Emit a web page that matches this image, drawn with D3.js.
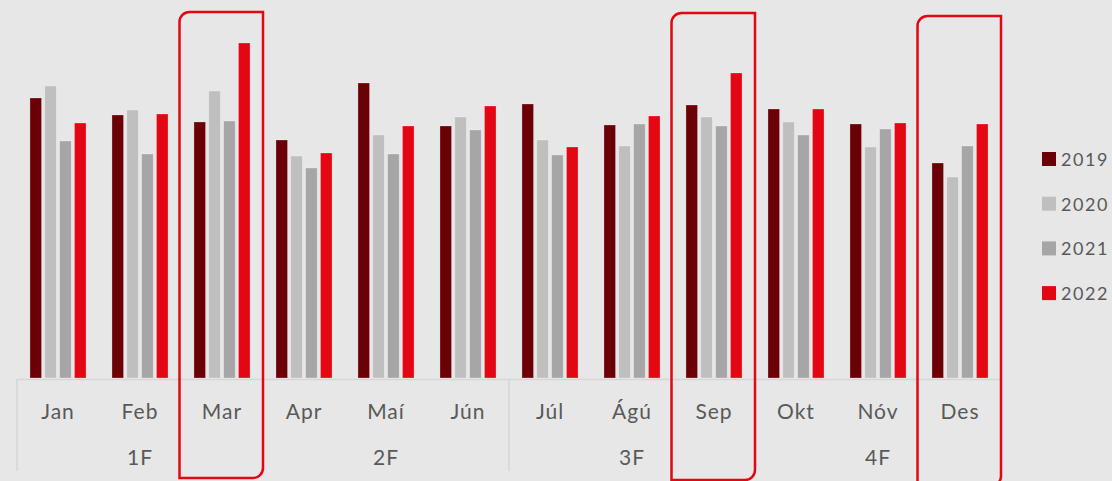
<!DOCTYPE html>
<html>
<head>
<meta charset="utf-8">
<script src="https://cdn.jsdelivr.net/npm/d3@7"></script>
<style>
  body { margin: 0; background: #e7e7e7; }
  svg { display: block; font-family: Lato, "Open Sans", sans-serif; }
</style>
</head>
<body>
<div id="chart"></div>
<script>
// monthly values per year (arbitrary units)
const months = ["Jan", "Feb", "Mar", "Apr", "Maí", "Jún", "Júl", "Ágú", "Sep", "Okt", "Nóv", "Des"]
const quarters = ["1F", "2F", "3F", "4F"]
const years = ["2019", "2020", "2021", "2022"]
const values2019 = [280, 263, 256, 238, 295, 252, 274, 253, 273, 269, 254, 215]
const values2020 = [292, 268, 287, 222, 243, 261, 238, 232, 261, 256, 231, 201]
const values2021 = [237, 224, 257, 210, 224, 248, 223, 254, 252, 243, 249, 232]
const values2022 = [255, 264, 335, 225, 252, 272, 231, 262, 305, 269, 255, 254]
const highlighted = ["Mar", "Sep", "Des"]

function renderChart(frame_id) {
    let width = 1112
    let height = 481
    let left = 17, right = 1001, base = 379

    let series = [values2019, values2020, values2021, values2022]
    let colors = ["#6b0007", "#bfbfbf", "#a6a6a6", "#e30613"]

    var svg = d3.select("#" + frame_id)
        .append("svg")
        .attr("width", width)
        .attr("height", height)

    svg.append("rect").attr("width", width).attr("height", height).attr("fill", "#e7e7e7")

    var x = d3.scaleBand()
        .domain(months)
        .range([left, right])
        .paddingInner(0.316)
        .paddingOuter(0.158)

    var x1 = d3.scaleBand()
        .domain(years)
        .range([0, x.bandwidth()])
        .paddingInner(0.22)

    var y = d3.scaleLinear()
        .domain([0, 360])
        .range([base - 1, base - 361])

    var color = d3.scaleOrdinal().domain(years).range(colors)

    var rows = months.map(function (m, i) {
        return { month: m, vals: years.map(function (yr, j) { return { year: yr, value: series[j][i] } }) }
    })

    var groups = svg.selectAll("g.month")
        .data(rows)
        .enter()
        .append("g")
        .attr("class", "month")
        .attr("transform", function (d) { return "translate(" + x(d.month) + ",0)" })

    groups.selectAll("rect")
        .data(function (d) { return d.vals })
        .enter()
        .append("rect")
        .attr("x", function (d) { return x1(d.year) })
        .attr("y", function (d) { return y(d.value) })
        .attr("width", x1.bandwidth())
        .attr("height", function (d) { return y(0) - y(d.value) })
        .attr("fill", function (d) { return color(d.year) })
        .attr("stroke", "#ffffff")
        .attr("stroke-opacity", 0.35)
        .attr("stroke-width", 0.75)

    // category axis (two levels)
    var step = x.step()
    var axisColor = "#d6d6d6"
    svg.append("line")
        .attr("x1", left).attr("x2", right)
        .attr("y1", base + 0.5).attr("y2", base + 0.5)
        .attr("stroke", axisColor).attr("stroke-width", 1.5)

    d3.range(quarters.length + 1).forEach(function (q) {
        var xx = left + q * 3 * step
        svg.append("line")
            .attr("x1", xx).attr("x2", xx)
            .attr("y1", base).attr("y2", 471)
            .attr("stroke", axisColor).attr("stroke-width", 1.5)
    })

    svg.selectAll("text.mlabel")
        .data(months)
        .enter()
        .append("text")
        .attr("class", "mlabel")
        .attr("x", function (d) { return x(d) + x.bandwidth() / 2 })
        .attr("y", 419)
        .attr("text-anchor", "middle")
        .attr("fill", "#595959")
        .style("font-size", "21px")
        .style("letter-spacing", "1px")
        .text(function (d) { return d })

    svg.selectAll("text.qlabel")
        .data(quarters)
        .enter()
        .append("text")
        .attr("class", "qlabel")
        .attr("x", function (d, i) { return left + (i * 3 + 1.5) * step })
        .attr("y", 465)
        .attr("text-anchor", "middle")
        .attr("fill", "#595959")
        .style("font-size", "21px")
        .style("letter-spacing", "1px")
        .text(function (d) { return d })

    // red highlight frames: rounded top-left and bottom-right corners
    var boxTops = { "Mar": 12, "Sep": 13, "Des": 16 }
    var boxBottoms = { "Mar": 478, "Sep": 480, "Des": 486 }
    var r = 10
    highlighted.forEach(function (m) {
        var x0 = x(m) - x.paddingInner() * step / 2 - 1.5
        var xr = x0 + step + 1.5
        var t = boxTops[m], b = boxBottoms[m]
        var p = d3.path()
        p.moveTo(x0, b)
        p.lineTo(x0, t + r)
        p.arcTo(x0, t, x0 + r, t, r)
        p.lineTo(xr, t)
        p.lineTo(xr, b - r)
        p.arcTo(xr, b, xr - r, b, r)
        p.closePath()
        svg.append("path")
            .attr("d", p.toString())
            .attr("fill", "none")
            .attr("stroke", "#e30613")
            .attr("stroke-width", 2.5)
    })

    // legend
    var legend = svg.selectAll("g.legend")
        .data(years)
        .enter()
        .append("g")
        .attr("class", "legend")
        .attr("transform", function (d, i) { return "translate(1042," + (152 + i * 44.7) + ")" })

    legend.append("rect")
        .attr("width", 14).attr("height", 14)
        .attr("fill", function (d) { return color(d) })

    legend.append("text")
        .attr("x", 19)
        .attr("y", 14)
        .attr("fill", "#595959")
        .style("font-size", "18px")
        .style("letter-spacing", "1.6px")
        .text(function (d) { return d })
}

document.addEventListener('DOMContentLoaded', function () { renderChart("chart") }, false);
</script>
</body>
</html>
